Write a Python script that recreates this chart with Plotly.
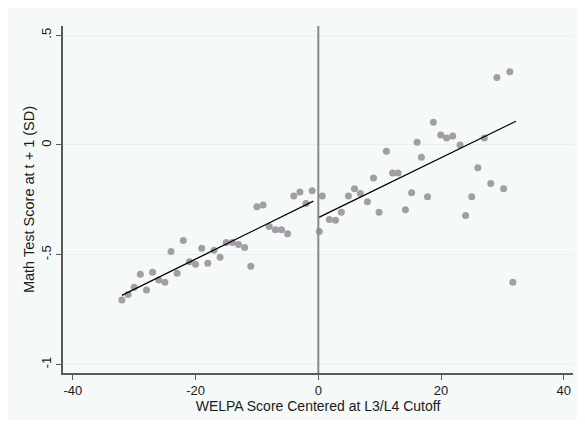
import plotly.graph_objects as go

# Binned means, left of cutoff
left_x = [-32, -31, -30, -29, -28, -27, -26, -25, -24, -23, -22, -21, -20, -19, -18, -17,
          -16, -15, -14, -13, -12, -11, -10, -9, -8, -7, -6, -5, -4, -3, -2, -1]
left_y = [-0.706, -0.681, -0.648, -0.589, -0.661, -0.580, -0.615, -0.625, -0.485, -0.584,
          -0.435, -0.532, -0.544, -0.471, -0.539, -0.480, -0.512, -0.444, -0.444, -0.453,
          -0.467, -0.553, -0.282, -0.273, -0.372, -0.386, -0.386, -0.404, -0.232, -0.214,
          -0.267, -0.209]

# Binned means, right of cutoff
right_x = [0.16, 0.65, 1.8, 2.8, 3.75, 4.9, 5.9, 6.85, 8.0, 9.0, 9.9, 11.1, 12.1, 13.0,
           14.2, 15.2, 16.1, 16.8, 17.8, 18.75, 19.95, 20.9, 21.9, 23.1, 24.0, 25.0, 26.0,
           27.05, 28.1, 29.1, 30.2, 31.2, 31.7]
right_y = [-0.394, -0.232, -0.340, -0.343, -0.307, -0.232, -0.200, -0.221, -0.259, -0.151,
           -0.307, -0.029, -0.128, -0.128, -0.295, -0.218, 0.012, -0.056, -0.236, 0.104,
           0.045, 0.032, 0.041, 0.000, -0.321, -0.236, -0.104, 0.032, -0.176, 0.307,
           -0.199, 0.334, -0.625]

# Linear fit lines (endpoints)
fit_left_x = [-32.0, -0.8]
fit_left_y = [-0.685, -0.256]
fit_right_x = [0.0, 32.2]
fit_right_y = [-0.331, 0.108]

cutoff = 0

x_ticks = [-40, -20, 0, 20, 40]
x_tick_labels = ["-40", "-20", "0", "20", "40"]
y_ticks = [-1, -0.5, 0, 0.5]
y_tick_labels = ["-1", "-.5", "0", ".5"]

marker_color = "#a29da6"
bg = "#f5faf8"
axis_col = "#5a5a5a"
grid_col = "#e6eff2"
font_family = "Liberation Sans, Arial, sans-serif"

fig = go.Figure()
fig.add_trace(go.Scatter(x=left_x + right_x, y=left_y + right_y, mode="markers",
                         marker=dict(color=marker_color, size=7, line=dict(width=0)),
                         showlegend=False, hoverinfo="skip"))
fig.add_trace(go.Scatter(x=fit_left_x, y=fit_left_y, mode="lines",
                         line=dict(color="black", width=1.3), showlegend=False))
fig.add_trace(go.Scatter(x=fit_right_x, y=fit_right_y, mode="lines",
                         line=dict(color="black", width=1.3), showlegend=False))

# cutoff line
fig.add_shape(type="line", xref="x", yref="paper", x0=cutoff, x1=cutoff, y0=0, y1=1,
              line=dict(color="#8a8a8a", width=2))

fig.update_layout(
    width=575, height=412,
    margin=dict(l=55, r=10, t=18, b=44),
    paper_bgcolor=bg, plot_bgcolor=bg,
    font=dict(family=font_family, size=13, color="#1a1a1a"),
    xaxis=dict(range=[-41.6, 41.5], tickvals=x_ticks, ticktext=x_tick_labels,
               showgrid=False, zeroline=False, showline=True, linecolor=axis_col,
               linewidth=1.5, ticks="outside", ticklen=5, tickcolor=axis_col,
               tickfont=dict(size=13),
               title=dict(text="WELPA Score Centered at L3/L4 Cutoff", font=dict(size=14),
                          standoff=2)),
    yaxis=dict(range=[-1.039, 0.542], tickvals=y_ticks, ticktext=y_tick_labels,
               showgrid=True, gridcolor=grid_col, gridwidth=1, zeroline=False,
               showline=True, linecolor=axis_col, linewidth=1.5, ticks="outside",
               ticklen=5, tickcolor=axis_col, tickangle=-90, tickfont=dict(size=13),
               title=dict(text="Math Test Score at t + 1 (SD)", font=dict(size=14.5),
                          standoff=1)),
)

fig.write_html("out.html")
